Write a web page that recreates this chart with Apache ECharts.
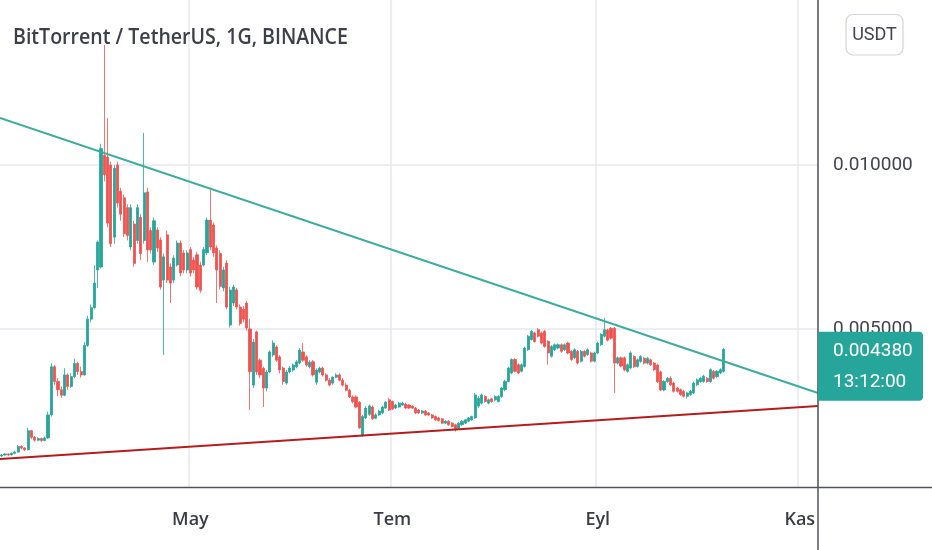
<!DOCTYPE html>
<html><head><meta charset="utf-8">
<script src="https://cdn.jsdelivr.net/npm/echarts@6/dist/echarts.min.js"></script>
<style>html,body{margin:0;padding:0;background:#fff}#c{width:932px;height:550px}</style>
</head><body><div id="c"></div>
<script>
// ---- data (prices in micro-USDT, 1e-6 USDT) ----
const UNIT = 1e-6;
const startDate = '2021-03-05';
const dayCount = 247;
const monthTicks = ['2021-05-01','2021-07-01','2021-09-01','2021-11-01'];
const monthLabels = ['May','Tem','Eyl','Kas'];
const priceTicks = [0.005, 0.010];
const yRange = [183, 15030];
const titleText = 'BitTorrent / TetherUS, 1G, BINANCE';
const currency = 'USDT';
const countdown = '13:12:00';

const opens = [
1130,1160,1190,1160,1210,1250,1420,1370,1320,1900,
1700,1610,1660,1600,1680,2380,3850,3400,3150,2980,
3600,3250,3550,3950,3700,3600,4500,5300,5650,6800,
6890,10300,10240,10000,7800,10000,9200,9000,8700,7500,
8200,7700,8400,7700,9180,8000,7040,8020,7710,6490,
7870,6890,6490,6950,7620,7320,6800,7420,7100,7260,
6950,6950,7320,8320,8170,7470,7300,6250,7010,5120,
5790,6190,5670,5600,5790,5000,3290,4910,4050,3800,
3200,3690,4210,4450,4150,3810,3350,3690,3750,3850,
3960,4300,4150,3850,4000,3380,3690,3810,3600,3440,
3350,3530,3600,3440,3290,3130,2930,2930,2770,1770,
2290,2400,2620,2280,2380,2440,2590,2840,2790,2590,
2620,2680,2710,2680,2650,2590,2530,2440,2500,2440,
2380,2330,2290,2260,2130,2190,2130,2080,1980,2080,
2130,2190,2230,2290,2650,2740,2940,2740,2870,2840,
2790,2940,3150,3400,3660,4070,3910,3710,3860,4370,
4680,4880,4980,4880,4930,4620,4170,4370,4420,4520,
4370,4570,4320,4120,4320,4020,4320,4220,4270,4020,
4270,4520,4780,4970,5020,5020,3960,4120,4120,3710,
3810,4160,3860,4010,4110,3960,4060,3960,3900,3690,
3140,3400,3500,3350,3200,3150,3100,2950,3000,3050,
3300,3400,3400,3500,3400,3710,3550,3660,3710
];
const closes = [
1160,1190,1160,1210,1250,1420,1370,1320,1900,1700,
1610,1660,1600,1680,2380,3850,3400,3150,2980,3600,
3250,3550,3950,3700,3600,4500,5300,5650,6400,7650,
10500,9700,8230,7600,9900,8840,8500,7900,7850,8700,
7000,8700,7300,9150,7410,7410,8300,7470,6280,7200,
6490,6400,7160,7620,6710,6800,7320,6710,6800,6280,
6180,7420,8320,7500,7320,6800,6300,6800,5670,6190,
6280,5670,5170,5300,5030,3700,4600,3690,3600,3200,
3690,4300,4570,4050,3750,3400,3690,3810,3900,4000,
4360,4050,3900,3990,3600,3750,3810,3600,3440,3290,
3530,3600,3440,3290,3130,2930,2780,2620,1990,2330,
2590,2650,2260,2380,2500,2620,2770,2530,2560,2680,
2740,2740,2590,2590,2590,2440,2440,2500,2380,2380,
2290,2230,2210,2130,2190,2080,2030,1930,2130,2190,
2230,2290,2330,2990,2890,2990,2790,2840,2790,2940,
2940,3200,3400,3810,4070,3710,3660,3910,4420,4780,
4930,4620,4780,4570,4470,4270,4470,4520,4520,4320,
4520,4270,4070,4370,3960,4320,4170,4370,4020,4270,
4570,4830,4980,4660,4720,3960,4120,3870,3750,3910,
4270,3850,4060,4160,3960,4110,3910,3760,3390,3140,
3400,3500,3300,3100,3100,3000,2950,3050,3100,3350,
3450,3500,3560,3400,3760,3500,3710,3760,4380
];
const lows = [
1100,1140,1130,1150,1180,1230,1330,1280,1300,1640,
1570,1580,1560,1580,1650,2330,3300,2950,2900,2950,
3150,3200,3500,3600,3520,3580,4450,5200,5600,6250,
6850,9500,8100,7500,7600,8700,8300,7800,7700,7400,
6900,7600,7100,7600,7040,7300,6950,7350,6200,4210,
6400,5790,6400,6900,6600,6700,6700,6600,6700,6200,
6100,6900,7250,7400,7200,5790,6200,6150,5600,5050,
5700,5600,5100,5200,4950,2530,3200,3600,3500,2620,
3100,3650,4150,4000,3650,3300,3300,3650,3700,3800,
3920,4000,3850,3800,3550,3300,3650,3550,3400,3250,
3300,3500,3400,3250,3100,2900,2730,2580,1950,1710,
2250,2350,2230,2250,2350,2400,2560,2500,2530,2560,
2600,2650,2560,2560,2560,2410,2410,2410,2350,2350,
2260,2200,2180,2100,2100,2050,2000,1870,1950,2050,
2100,2160,2200,2260,2600,2700,2750,2700,2750,2800,
2760,2900,3100,3370,3620,3680,3620,3680,3820,4330,
4650,4580,4740,4530,4430,3910,4130,4330,4380,4280,
4330,4230,4030,4080,3920,3980,4130,4180,3980,3980,
4230,4480,4740,4620,4680,3050,3920,3830,3710,3670,
3770,3810,3820,3970,3920,3920,3870,3720,3350,3100,
3100,3360,3260,3060,3060,2960,2910,2880,2960,3010,
3260,3360,3360,3360,3360,3460,3510,3620,3670
];
const highs = [
1190,1220,1210,1240,1290,1460,1450,1400,1990,1920,
1740,1700,1690,1720,2480,3950,3900,3500,3250,3800,
3650,3650,4100,4000,3850,4600,5400,5750,6950,7700,
10650,13660,11430,10100,10000,10100,9300,9100,8800,8800,
8300,8800,8500,10980,9300,8100,8400,8100,7800,7300,
8000,7000,7250,7700,7700,7400,7400,7500,7200,7350,
7050,7500,8400,9240,8250,7550,7400,6900,7100,6280,
6350,6250,5750,5700,5850,5300,4700,4950,4100,3850,
3750,4350,4650,4500,4200,3850,3750,3870,3950,4050,
4420,4570,4200,4050,4050,3800,3850,3850,3650,3500,
3560,3650,3650,3500,3350,3180,2980,2980,2800,2380,
2650,2700,2670,2430,2540,2660,2810,2900,2820,2720,
2780,2780,2750,2710,2680,2620,2560,2530,2530,2470,
2410,2360,2320,2290,2220,2220,2160,2110,2160,2220,
2260,2320,2360,3050,2950,3030,2980,2880,2900,2980,
2980,3240,3450,3850,4110,4110,3950,3950,4460,4820,
4970,4920,5030,4920,4970,4660,4510,4560,4560,4560,
4560,4610,4360,4410,4360,4360,4360,4410,4310,4310,
4610,4870,5340,5010,5060,5060,4160,4160,4160,3950,
4320,4200,4100,4200,4150,4150,4100,4000,3940,3730,
3440,3540,3560,3390,3240,3190,3140,3090,3140,3390,
3490,3540,3600,3540,3800,3750,3750,3800,4420
];
// trend lines: [day index, price] endpoints at the plot edges
const upperTrend = [[-0.5, 11433], [246.5, 3049]];
const lowerTrend = [[-0.5, 1037], [246.5, 2652]];

// ---- build ----
const categories = [];
(function(){
  const d0 = Date.parse(startDate + 'T00:00:00Z');
  for (let i = 0; i < dayCount; i++) categories.push(new Date(d0 + i * 86400000).toISOString().slice(0, 10));
})();
const candles = opens.map((o, i) => [o * UNIT, closes[i] * UNIT, lows[i] * UNIT, highs[i] * UNIT]);
const lastClose = closes[closes.length - 1] * UNIT;
const toPts = arr => arr.map(p => [p[0], p[1] * UNIT]);

const GREEN = '#26a69a', RED = '#ef5350';
const isMonthTick = (i, v) => monthTicks.indexOf(v) >= 0;

const chart = echarts.init(document.getElementById('c'), null, {renderer: 'canvas'});
chart.setOption({
  animation: false,
  backgroundColor: '#ffffff',
  grid: {left: 0, right: 114, top: 0, bottom: 63, containLabel: false},
  xAxis: [{
    type: 'category', data: categories, boundaryGap: true,
    axisLine: {show: false}, axisTick: {show: false},
    axisLabel: {
      interval: isMonthTick,
      formatter: v => monthLabels[monthTicks.indexOf(v)],
      color: '#3b3d45', fontFamily: 'Open Sans', fontWeight: 600, fontSize: 18,
      lineHeight: 18, margin: 24
    },
    splitLine: {show: true, interval: isMonthTick, lineStyle: {color: '#e7e9ef', width: 1.5}}
  }, {
    type: 'value', min: -0.5, max: dayCount - 0.5, show: false
  }],
  yAxis: {
    type: 'value', position: 'right',
    min: yRange[0] * UNIT, max: yRange[1] * UNIT,
    axisLine: {show: false},
    axisTick: {show: false, customValues: priceTicks},
    axisLabel: {
      customValues: priceTicks,
      formatter: v => v.toFixed(6),
      color: '#42454e', fontFamily: 'Roboto', fontSize: 19, margin: 15, align: 'left',
      padding: [7, 0, 0, 0]
    },
    splitLine: {show: true, lineStyle: {color: '#e7e9ef', width: 1.5}}
  },
  series: [{
    type: 'candlestick', data: candles, barWidth: 2.6,
    itemStyle: {color: GREEN, color0: RED, borderColor: GREEN, borderColor0: RED, borderWidth: 0.8},
    markLine: {
      silent: true, symbol: ['none', 'none'], label: {show: false},
      lineStyle: {color: GREEN, type: [1.5, 3.5], width: 1.5},
      emphasis: {disabled: true},
      data: [{yAxis: lastClose}]
    }
  }, {
    type: 'line', xAxisIndex: 1, data: toPts(upperTrend), symbol: 'none', silent: true, z: 4,
    lineStyle: {color: '#3aae9e', width: 2}
  }, {
    type: 'line', xAxisIndex: 1, data: toPts(lowerTrend), symbol: 'none', silent: true, z: 4,
    lineStyle: {color: '#b71c1c', width: 2.2}
  }]
});

const py = chart.convertToPixel({yAxisIndex: 0}, lastClose);
chart.setOption({
  graphic: [
    {type: 'line', z: 50, shape: {x1: 0, y1: 487.5, x2: 932, y2: 487.5}, style: {stroke: '#50535e', lineWidth: 1.5}},
    {type: 'line', z: 50, shape: {x1: 818, y1: 0, x2: 818, y2: 550}, style: {stroke: '#50535e', lineWidth: 1.5}},
    {type: 'text', z: 60, x: 13, y: 38, scaleX: 0.89,
      style: {text: titleText, font: '600 22px "Open Sans"', fill: '#3d4049', align: 'left', verticalAlign: 'middle', textAlign: 'left', textVerticalAlign: 'middle'}},
    {type: 'rect', z: 60, shape: {x: 846, y: 14.5, width: 57, height: 40.5, r: 7},
      style: {fill: '#ffffff', stroke: '#d1d4dc', lineWidth: 1.2}},
    {type: 'text', z: 61, x: 874.5, y: 35,
      style: {text: currency, font: '18px Roboto', fill: '#434651', align: 'center', verticalAlign: 'middle', textAlign: 'center', textVerticalAlign: 'middle'}},
    {type: 'group', z: 70, x: 818, y: py - 17.5, children: [
      {type: 'rect', z: 70, shape: {x: 0, y: 0, width: 105, height: 69, r: [0, 4, 4, 0]}, style: {fill: GREEN}},
      {type: 'text', z: 71, x: 15, y: 19,
        style: {text: lastClose.toFixed(6), font: '19px Roboto', fill: '#ffffff', align: 'left', verticalAlign: 'middle', textAlign: 'left', textVerticalAlign: 'middle'}},
      {type: 'text', z: 71, x: 15, y: 50,
        style: {text: countdown, font: '19px Roboto', fill: '#ffffff', align: 'left', verticalAlign: 'middle', textAlign: 'left', textVerticalAlign: 'middle'}}
    ]}
  ]
});
</script>
</body></html>
